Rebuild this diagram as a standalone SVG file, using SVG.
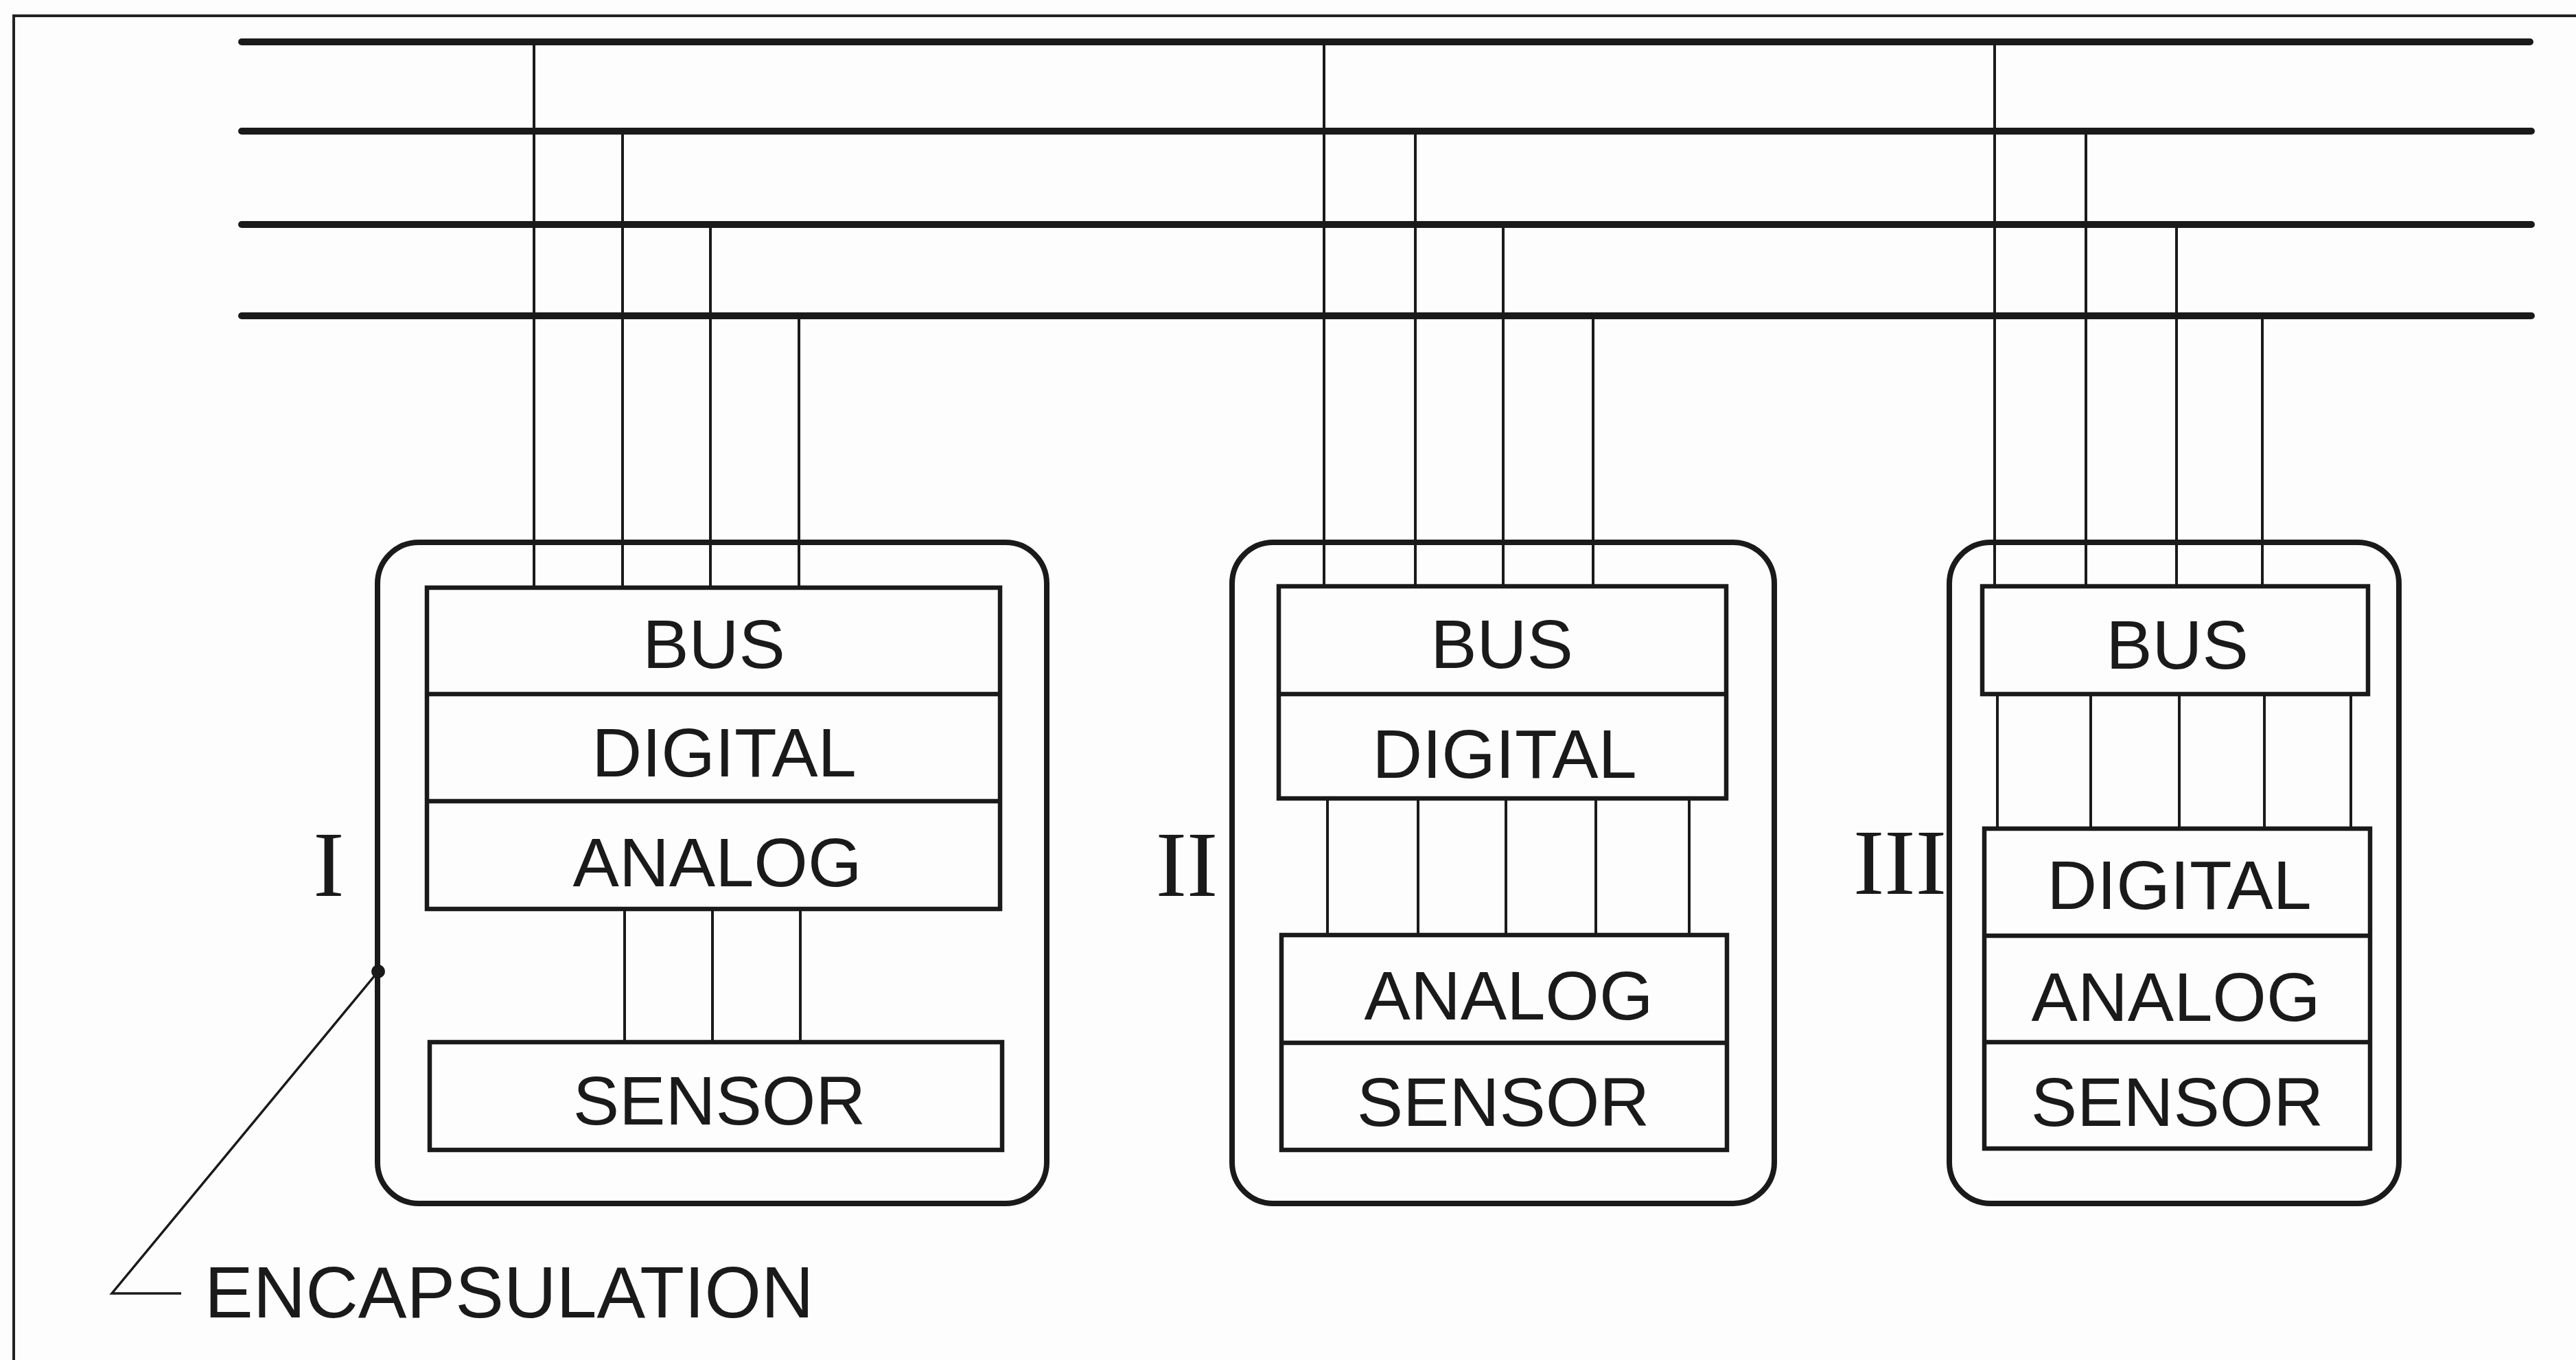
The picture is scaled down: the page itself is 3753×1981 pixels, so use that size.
<svg xmlns="http://www.w3.org/2000/svg" width="3753" height="1981" viewBox="0 0 3753 1981">
<style>
.bg{fill:#fdfdfd}
.frame{fill:none;stroke:#222;stroke-width:4}
.bus{fill:none;stroke:#1a1a1a;stroke-width:10;stroke-linecap:round}
.wire{fill:none;stroke:#1a1a1a;stroke-width:4}
.enc{fill:none;stroke:#1a1a1a;stroke-width:8}
.box{fill:none;stroke:#1a1a1a;stroke-width:6.5}
.lead{fill:none;stroke:#1a1a1a;stroke-width:3.5}
.lbl{font-family:"Liberation Sans",Arial,sans-serif;font-size:101px;fill:#1a1a1a;text-anchor:middle}
.rom{font-family:"Liberation Serif","Times New Roman",serif;font-size:136px;fill:#1a1a1a;text-anchor:middle}
.cap{font-family:"Liberation Sans",Arial,sans-serif;font-size:106px;fill:#1a1a1a}
</style>
<rect class="bg" x="0" y="0" width="3753" height="1981"/>
<path class="frame" d="M20,1981 V23 H3753"/>

<g id="connectors">
  <g id="bus-lines">
    <line class="bus" x1="352" y1="61" x2="3686" y2="61"/>
    <line class="bus" x1="352" y1="191" x2="3688" y2="191"/>
    <line class="bus" x1="352" y1="327" x2="3688" y2="327"/>
    <line class="bus" x1="352" y1="460" x2="3688" y2="460"/>
  </g>
  <g id="wires-I">
    <line class="wire" x1="778" y1="61" x2="778" y2="856"/>
    <line class="wire" x1="907" y1="191" x2="907" y2="856"/>
    <line class="wire" x1="1035" y1="327" x2="1035" y2="856"/>
    <line class="wire" x1="1164" y1="460" x2="1164" y2="856"/>
    <line class="wire" x1="910" y1="1324" x2="910" y2="1518"/>
    <line class="wire" x1="1038" y1="1324" x2="1038" y2="1518"/>
    <line class="wire" x1="1166" y1="1324" x2="1166" y2="1518"/>
  </g>
  <g id="wires-II">
    <line class="wire" x1="1929" y1="61" x2="1929" y2="854"/>
    <line class="wire" x1="2062" y1="191" x2="2062" y2="854"/>
    <line class="wire" x1="2190" y1="327" x2="2190" y2="854"/>
    <line class="wire" x1="2321" y1="460" x2="2321" y2="854"/>
    <line class="wire" x1="1934" y1="1163" x2="1934" y2="1362"/>
    <line class="wire" x1="2066" y1="1163" x2="2066" y2="1362"/>
    <line class="wire" x1="2194" y1="1163" x2="2194" y2="1362"/>
    <line class="wire" x1="2325" y1="1163" x2="2325" y2="1362"/>
    <line class="wire" x1="2461" y1="1163" x2="2461" y2="1362"/>
  </g>
  <g id="wires-III">
    <line class="wire" x1="2906" y1="61" x2="2906" y2="854"/>
    <line class="wire" x1="3039" y1="191" x2="3039" y2="854"/>
    <line class="wire" x1="3171" y1="327" x2="3171" y2="854"/>
    <line class="wire" x1="3296" y1="460" x2="3296" y2="854"/>
    <line class="wire" x1="2910" y1="1011" x2="2910" y2="1207"/>
    <line class="wire" x1="3046" y1="1011" x2="3046" y2="1207"/>
    <line class="wire" x1="3175" y1="1011" x2="3175" y2="1207"/>
    <line class="wire" x1="3299" y1="1011" x2="3299" y2="1207"/>
    <line class="wire" x1="3425" y1="1011" x2="3425" y2="1207"/>
  </g>
  <g id="leader">
    <polyline class="lead" points="551,1415 163,1884 264,1884"/>
    <circle cx="551" cy="1415" r="10" fill="#1a1a1a"/>
  </g>
</g>

<g id="module-I">
  <rect class="enc" x="550" y="790" width="975" height="963" rx="60" ry="60"/>
  <rect class="box" x="622" y="856" width="835" height="468"/>
  <line class="box" x1="622" y1="1011" x2="1457" y2="1011"/>
  <line class="box" x1="622" y1="1167" x2="1457" y2="1167"/>
  <rect class="box" x="626" y="1518" width="834" height="157"/>
  <text class="lbl" x="1040" y="973">BUS</text>
  <text class="lbl" x="1055" y="1131">DIGITAL</text>
  <text class="lbl" x="1045" y="1291">ANALOG</text>
  <text class="lbl" x="1048" y="1638">SENSOR</text>
  <text class="rom" x="479" y="1305">I</text>
</g>

<g id="module-II">
  <rect class="enc" x="1795" y="790" width="790" height="963" rx="60" ry="60"/>
  <rect class="box" x="1863" y="854" width="652" height="309"/>
  <line class="box" x1="1863" y1="1011" x2="2515" y2="1011"/>
  <rect class="box" x="1867" y="1362" width="649" height="313"/>
  <line class="box" x1="1867" y1="1519" x2="2516" y2="1519"/>
  <text class="lbl" x="2188" y="973">BUS</text>
  <text class="lbl" x="2192" y="1133">DIGITAL</text>
  <text class="lbl" x="2198" y="1485">ANALOG</text>
  <text class="lbl" x="2190" y="1640">SENSOR</text>
  <text class="rom" x="1729" y="1305">II</text>
</g>

<g id="module-III">
  <rect class="enc" x="2840" y="790" width="655" height="963" rx="60" ry="60"/>
  <rect class="box" x="2888" y="854" width="562" height="157"/>
  <rect class="box" x="2891" y="1207" width="562" height="466"/>
  <line class="box" x1="2891" y1="1363" x2="3453" y2="1363"/>
  <line class="box" x1="2891" y1="1518" x2="3453" y2="1518"/>
  <text class="lbl" x="3172" y="974">BUS</text>
  <text class="lbl" x="3175" y="1324">DIGITAL</text>
  <text class="lbl" x="3170" y="1487">ANALOG</text>
  <text class="lbl" x="3172" y="1640">SENSOR</text>
  <text class="rom" x="2768" y="1302">III</text>
</g>

<g id="encapsulation-label">
  <text class="cap" x="298" y="1919">ENCAPSULATION</text>
</g>
</svg>
